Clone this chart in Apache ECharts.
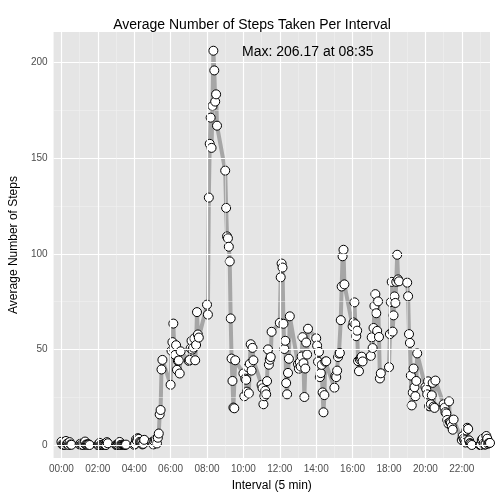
<!DOCTYPE html>
<html><head><meta charset="utf-8">
<script src="https://cdn.jsdelivr.net/npm/echarts@6/dist/echarts.min.js"></script>
<style>html,body{margin:0;padding:0;background:#fff}#c{width:504px;height:504px}</style>
</head><body><div id="c"></div>
<script>
// mean steps per 5-min interval, one row per hour (12 values each)
var h00 = [1.7, 0.3, 0.1, 0.2, 0.1, 2.1, 0.5, 0.9, 0.0, 1.5, 0.3, 0.1];
var h01 = [0.3, 0.7, 0.2, 0.3, 0.0, 1.1, 1.8, 0.2, 0.2, 0.4, 0.3, 0.0];
var h02 = [0.0, 0.0, 1.1, 0.0, 0.0, 0.1, 0.0, 0.2, 0.0, 0.0, 1.5, 0.9];
var h03 = [0.0, 0.0, 0.2, 0.6, 1.6, 0.0, 0.0, 0.2, 0.0, 0.0, 0.0, 0.2];
var h04 = [0.1, 0.5, 2.9, 2.2, 3.6, 3.2, 1.6, 1.4, 1.1, 0.3, 0.6, 2.7];
var h05 = [1.6, 0.3, 2.0, 2.8, 2.6, 0.8, 3.8, 6.0, 16.0, 18.3, 39.5, 44.5];
var h06 = [31.5, 49.3, 53.8, 63.5, 50.0, 47.1, 52.2, 39.3, 44.0, 44.2, 37.4, 49.0];
var h07 = [44.0, 44.5, 50.5, 54.5, 49.9, 50.9, 55.7, 44.3, 52.3, 69.5, 57.8, 56.2];
var h08 = [73.4, 68.2, 129.4, 157.5, 171.2, 155.4, 177.3, 206.2, 195.9, 179.6, 183.4, 167.0];
var h09 = [143.5, 124.0, 109.1, 108.1, 103.7, 96.0, 66.2, 45.2, 33.5, 19.6, 19.2, 44.3];
var h10 = [37.4, 25.5, 34.7, 34.1, 27.9, 40.6, 27.0, 42.4, 52.7, 38.9, 50.8, 44.3];
var h11 = [31.4, 29.7, 21.3, 25.5, 28.4, 26.5, 33.4, 50.0, 42.0, 44.6, 46.0, 59.2];
var h12 = [63.9, 87.7, 94.9, 92.8, 63.4, 50.2, 54.5, 32.4, 26.5, 37.7, 45.1, 67.3];
var h13 = [42.3, 39.9, 43.3, 41.0, 46.3, 56.4, 42.8, 25.1, 40.0, 53.6, 47.3, 60.8];
var h14 = [55.8, 52.0, 43.6, 48.7, 35.5, 37.6, 41.9, 27.5, 17.1, 26.1, 43.6, 43.8];
var h15 = [30.0, 36.1, 35.5, 38.9, 46.0, 47.8, 48.1, 65.3, 82.9, 98.7, 102.1, 84.0];
var h16 = [62.1, 64.1, 74.6, 63.2, 56.9, 59.8, 43.9, 38.6, 44.7, 45.5, 46.2, 43.7];
var h17 = [46.6, 56.3, 50.7, 61.2, 72.7, 78.9, 68.9, 59.7, 75.1, 56.5, 34.8, 37.5];
var h18 = [40.7, 58.0, 74.7, 85.3, 59.3, 67.8, 77.7, 74.3, 85.3, 99.5, 86.6, 85.6];
var h19 = [84.9, 77.8, 58.0, 53.4, 36.3, 20.7, 27.4, 40.0, 30.2, 25.5, 33.5, 47.9];
var h20 = [30.3, 29.1, 26.5, 33.3, 20.3, 20.2, 21.3, 26.0, 32.5, 20.1, 19.4, 33.7];
var h21 = [21.3, 19.5, 17.2, 16.5, 13.1, 11.3, 22.8, 12.0, 11.6, 9.7, 8.0, 13.3];
var h22 = [2.6, 4.6, 3.3, 2.5, 1.3, 7.6, 9.0, 8.4, 2.4, 1.0, 0.6, 0.0];
var h23 = [0.0, 0.1, 2.6, 3.3, 0.7, 0.2, 0.3, 4.7, 3.3, 0.7, 1.1, 1.1];
var hours = [h00,h01,h02,h03,h04,h05,h06,h07,h08,h09,h10,h11,h12,h13,h14,h15,h16,h17,h18,h19,h20,h21,h22,h23];

var xTicks = [0, 200, 400, 600, 800, 1000, 1200, 1400, 1600, 1800, 2000, 2200];
var yTicks = [0, 50, 100, 150, 200];
var yMinor = [25, 75, 125, 175];

// interval is plotted as the raw hhmm integer (e.g. 835)
var data = [];
hours.forEach(function (row, h) {
    row.forEach(function (v, i) { data.push([h * 100 + i * 5, v]); });
});

var chart = echarts.init(document.getElementById('c'));
var txt = '#4D4D4D';
chart.setOption({
    animation: false,
    title: {
        text: 'Average Number of Steps Taken Per Interval', left: 'center', top: 13,
        textStyle: {fontFamily: 'Liberation Sans', fontSize: 14, fontWeight: 'normal', color: '#000'}
    },
    grid: {left: 44, right: 14, top: 32, bottom: 46, backgroundColor: '#E5E5E5', show: true, borderWidth: 0},
    xAxis: {
        type: 'value', min: -43, max: 2355,
        name: 'Interval (5 min)', nameLocation: 'middle', nameGap: 22,
        nameTextStyle: {fontFamily: 'Liberation Sans', fontSize: 12, color: '#000'},
        axisLine: {show: false},
        axisTick: {show: true, length: 4, lineStyle: {color: '#7F7F7F'}, customValues: xTicks},
        axisLabel: {fontFamily: 'Liberation Sans', fontSize: 10, color: txt, margin: 6,
            customValues: xTicks,
            formatter: function (v) { var h = v / 100; return (h < 10 ? '0' : '') + h + ':00'; }},
        splitLine: {show: false}
    },
    yAxis: {
        type: 'value', min: -6.8, max: 216,
        name: 'Average Number of Steps', nameLocation: 'middle', nameGap: 28,
        nameTextStyle: {fontFamily: 'Liberation Sans', fontSize: 12, color: '#000'},
        axisLine: {show: false},
        axisTick: {show: true, length: 4, lineStyle: {color: '#7F7F7F'}, customValues: yTicks},
        axisLabel: {fontFamily: 'Liberation Sans', fontSize: 10, color: txt, margin: 6, customValues: yTicks},
        splitLine: {show: false}
    },
    series: [{
        // grid lines only, drawn beneath the data
        type: 'line', data: [], z: 1, silent: true,
        markLine: {
            silent: true, symbol: 'none', label: {show: false},
            lineStyle: {color: '#fff', width: 1.2, type: 'solid'},
            data: yTicks.map(function (v) { return {yAxis: v}; })
                .concat(yMinor.map(function (v) { return {yAxis: v, lineStyle: {color: '#F2F2F2', width: 0.5}}; }))
                .concat(xTicks.map(function (v) { return {xAxis: v}; }))
                .concat(xTicks.map(function (v) { return {xAxis: v + 100, lineStyle: {color: '#F2F2F2', width: 0.5}}; }))
        }
    }, {
        type: 'line', data: data, z: 3,
        lineStyle: {color: '#A6A6A6', width: 4},
        symbol: 'circle', symbolSize: 9,
        itemStyle: {color: '#fff', borderColor: '#000', borderWidth: 1}
    }],
    graphic: [{
        type: 'text', left: 242, top: 45, z: 10,
        style: {text: 'Max: 206.17 at 08:35', font: '14px "Liberation Sans"', fill: '#000'}
    }]
});
</script></body></html>
